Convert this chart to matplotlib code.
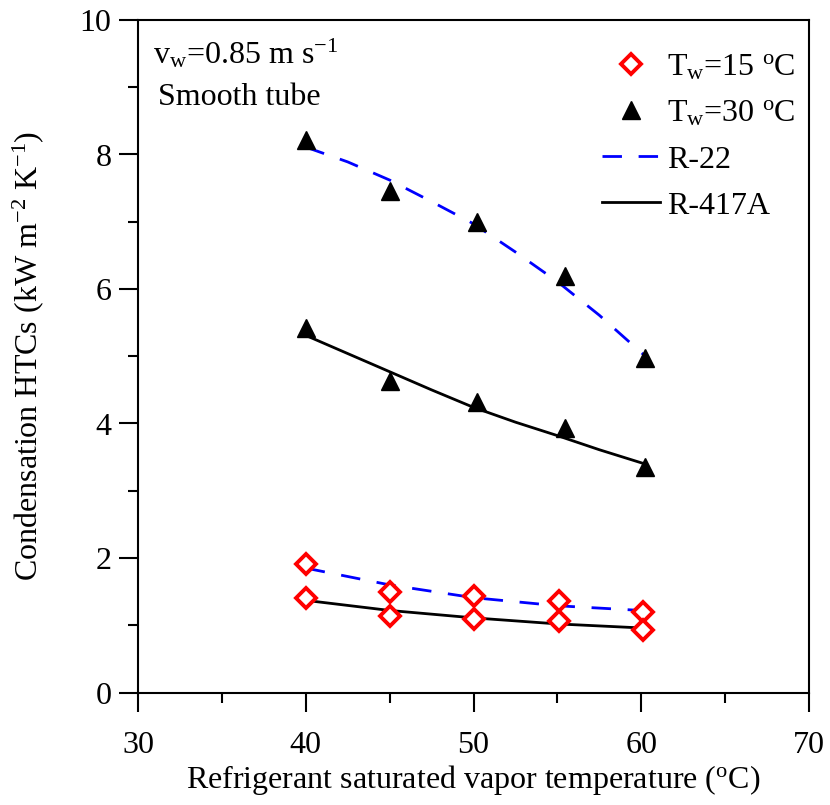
import matplotlib
matplotlib.use("Agg")
import matplotlib.pyplot as plt
from matplotlib.ticker import MultipleLocator
from matplotlib.lines import Line2D

plt.rcParams['font.family'] = ['Liberation Serif', 'DejaVu Serif']
plt.rcParams['mathtext.fontset'] = 'custom'
plt.rcParams['mathtext.rm'] = 'Liberation Serif'
plt.rcParams['mathtext.it'] = 'Liberation Serif:italic'

# Measured points, Tw = 30 C (triangles)
x_tri = [40.0, 45.0, 50.2, 55.45, 60.2]
htc_r22_30 = [8.21, 7.45, 6.99, 6.20, 4.98]
htc_r417_30 = [5.42, 4.63, 4.32, 3.94, 3.36]

# Measured points, Tw = 15 C (diamonds)
x_dia = [40.0, 45.0, 50.0, 55.1, 60.1]
htc_r22_15 = [1.91, 1.49, 1.43, 1.36, 1.19]
htc_r417_15 = [1.41, 1.14, 1.10, 1.06, 0.93]

# Fitted curves
x_fit = [40.0, 42.5, 45.0, 47.5, 50.0, 52.5, 55.0, 57.5, 60.2]
fit_r22_30 = [8.11, 7.89, 7.62, 7.30, 6.97, 6.55, 6.11, 5.61, 5.01]
fit_r417_30 = [5.31, 5.04, 4.77, 4.50, 4.24, 4.02, 3.82, 3.61, 3.40]
x_fit15 = [40.0, 45.0, 50.0, 55.0, 60.0]
fit_r22_15 = [1.85, 1.60, 1.41, 1.29, 1.22]
fit_r417_15 = [1.37, 1.22, 1.11, 1.02, 0.96]

legend_labels = [r'T$_\mathrm{w}$=15 $^\mathrm{o}$C', r'T$_\mathrm{w}$=30 $^\mathrm{o}$C', 'R-22', 'R-417A']

FS = 23
fig = plt.figure(figsize=(8.3, 8.05), dpi=100)
ax = fig.add_axes([138/830, 1 - 692.5/805, (809-138)/830, (692.5-20)/805])

dash = (0, (7, 6))
lw = 2.0
ax.plot(x_fit, fit_r22_30, color='#0000ff', lw=lw, linestyle=dash, zorder=2)
ax.plot(x_fit, fit_r417_30, color='black', lw=lw, zorder=2)
ax.plot(x_fit15, fit_r22_15, color='#0000ff', lw=lw, linestyle=dash, zorder=2)
ax.plot(x_fit15, fit_r417_15, color='black', lw=lw, zorder=2)

tri_kw = dict(marker='^', color='black', markersize=12.5, linestyle='none', zorder=3)
dia_kw = dict(marker='D', markerfacecolor='white', markeredgecolor='#ff0000',
              markeredgewidth=2.8, markersize=10.5, linestyle='none', zorder=3)
ax.plot(x_tri, htc_r22_30, **tri_kw)
ax.plot(x_tri, htc_r417_30, **tri_kw)
ax.plot(x_dia, htc_r22_15, **dia_kw)
ax.plot(x_dia, htc_r417_15, **dia_kw)

ax.set_xlim(30, 70)
ax.set_ylim(0, 10)
ax.xaxis.set_major_locator(MultipleLocator(10))
ax.xaxis.set_minor_locator(MultipleLocator(5))
ax.yaxis.set_major_locator(MultipleLocator(2))
ax.yaxis.set_minor_locator(MultipleLocator(1))
ax.tick_params(which='both', direction='out', width=1.5, top=False, right=False, labelsize=FS)
ax.tick_params(axis='x', which='major', length=14, pad=14)
ax.tick_params(axis='y', which='major', length=14, pad=5)
ax.tick_params(which='minor', length=7)
for s in ax.spines.values():
    s.set_linewidth(1.5)

ax.set_xlabel(r'Refrigerant saturated vapor temperature ($^\mathrm{o}$C)', fontsize=FS, labelpad=2)
ax.set_ylabel(r'Condensation HTCs (kW m$^\mathrm{-2}$ K$^\mathrm{-1}$)', fontsize=FS, labelpad=24)

ax.text(0.022, 0.935, r'v$_\mathrm{w}$=0.85 m s$^\mathrm{-1}$', transform=ax.transAxes, fontsize=FS)
ax.text(0.03, 0.873, 'Smooth tube', transform=ax.transAxes, fontsize=FS)

handles = [
    Line2D([], [], **dia_kw),
    Line2D([], [], **tri_kw),
    Line2D([], [], color='#0000ff', lw=lw, linestyle=dash),
    Line2D([], [], color='black', lw=lw),
]
ax.legend(handles, legend_labels, loc='upper left', frameon=False, fontsize=FS,
          bbox_to_anchor=((602-138)/671, (692.5-53)/672.5), handlelength=1.8, handletextpad=0.25,
          labelspacing=0.52, borderaxespad=0.0, borderpad=0.0)

fig.savefig('out.png', dpi=100)
